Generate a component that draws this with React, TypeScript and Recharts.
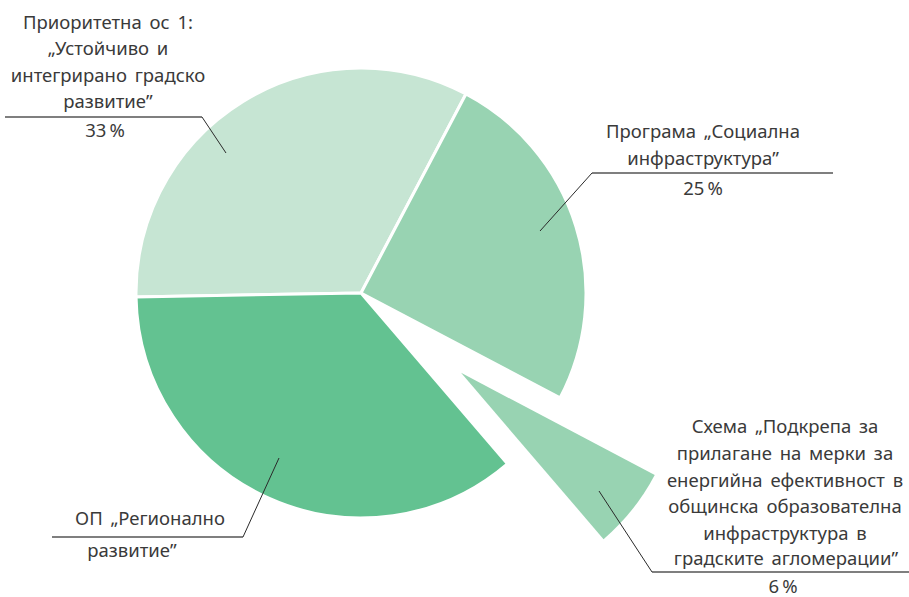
import { PieChart, Pie, Cell, Sector } from 'recharts';

const NAMES = [
  ['Приоритетна ос 1:', '„Устойчиво и', 'интегрирано градско', 'развитие”'],
  ['Програма „Социална', 'инфраструктура”'],
  ['Схема „Подкрепа за', 'прилагане на мерки за', 'енергийна ефективност в', 'общинска образователна', 'инфраструктура в', 'градските агломерации”'],
  ['ОП „Регионално', 'развитие”'],
];
const VALUES = [33, 25, 6, 36];
const PCT_LABELS = ['33\u2009%', '25\u2009%', '6\u2009%', ''];
const EXPLODED = [false, false, true, false];

const COLORS = ['#c6e5d3', '#98d3b2', '#98d3b2', '#63c291'];

// hand placed label boxes (text anchors, rule line, leader into slice)
const LAYOUT = [
  { lines: [[108, 29], [108, 55], [108, 82], [108, 108]], rule: [5, 202, 117], lead: [202, 117, 226, 153], pct: [105, 137] },
  { lines: [[703, 138], [703, 165]], rule: [592, 833, 173], lead: [592, 173, 540, 231], pct: [703, 195] },
  { lines: [[785, 433], [785, 460], [785, 487], [785, 513], [785, 540], [786, 565]], rule: [652, 909, 572], lead: [652, 572, 599, 491], pct: [783, 593] },
  { lines: [[150, 525], [132, 557]], rule: [52, 243, 537], lead: [243, 537, 279, 458], pct: [0, 0] },
];

const data = VALUES.map((v, i) => ({ name: NAMES[i].join(' '), value: v, i }));

const RAD = Math.PI / 180;

const SliceShape = (props: any) => {
  const idx = props.payload?.i ?? props.index;
  if (EXPLODED[idx]) {
    const off = 128;
    const dx = off * Math.cos(-props.midAngle * RAD);
    const dy = off * Math.sin(-props.midAngle * RAD);
    return <Sector {...props} cx={props.cx + dx} cy={props.cy + dy} outerRadius={219} stroke="none" />;
  }
  return <Sector {...props} />;
};

const renderLabel = (props: any) => {
  const idx = props.payload?.i ?? props.index;
  const l = LAYOUT[idx];
  const txt = { fontFamily: '"Noto Sans", sans-serif', fontSize: 18.5, fill: '#3a3a3a', wordSpacing: 3 };
  return (
    <g key={idx}>
      {NAMES[idx].map((s, k) => (
        <text key={k} x={l.lines[k][0]} y={l.lines[k][1]} textAnchor="middle" {...txt}>{s}</text>
      ))}
      <line x1={l.rule[0]} x2={l.rule[1]} y1={l.rule[2]} y2={l.rule[2]} stroke="#555" strokeWidth={1.3} />
      <line x1={l.lead[0]} y1={l.lead[1]} x2={l.lead[2]} y2={l.lead[3]} stroke="#2a2a2a" strokeWidth={1} />
      {PCT_LABELS[idx] && (
        <text x={l.pct[0]} y={l.pct[1]} textAnchor="middle" {...txt}>{PCT_LABELS[idx]}</text>
      )}
    </g>
  );
};

export default function App() {
  return (
    <div style={{ position: 'absolute', left: 0, top: 0, width: 909, height: 597, background: '#fff' }}>
      <PieChart width={909} height={597} margin={{ top: 0, right: 0, bottom: 0, left: 0 }}>
        <Pie
          data={data}
          dataKey="value"
          cx={361}
          cy={293}
          outerRadius={225}
          startAngle={181}
          endAngle={-179}
          stroke="#fff"
          strokeWidth={3}
          shape={SliceShape}
          label={renderLabel}
          labelLine={false}
          isAnimationActive={false}
        >
          {data.map((_, i) => <Cell key={i} fill={COLORS[i]} />)}
        </Pie>
      </PieChart>
    </div>
  );
}
